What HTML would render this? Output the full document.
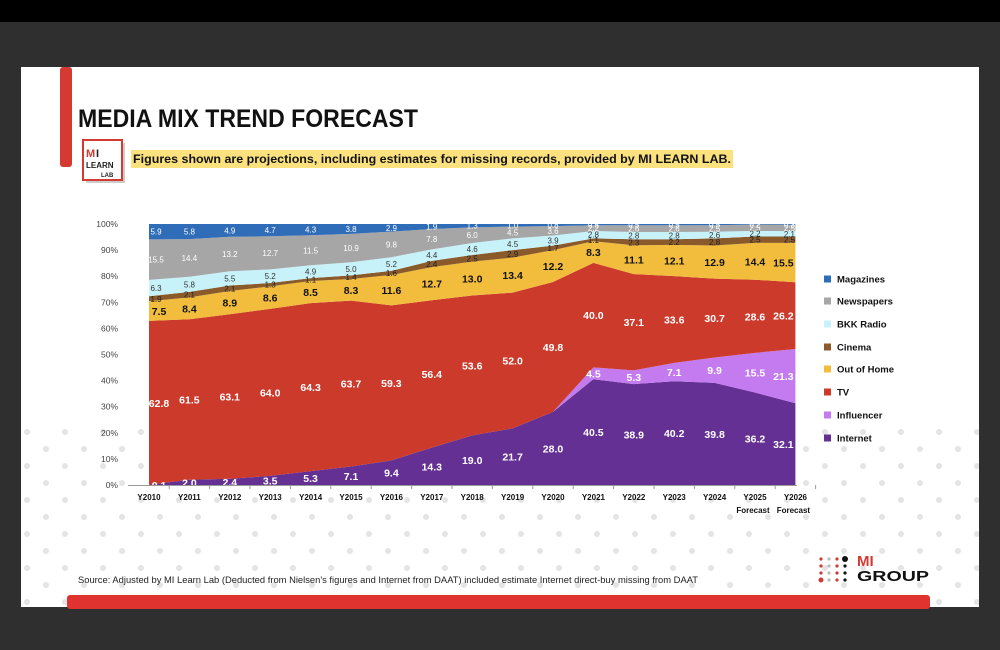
<!DOCTYPE html>
<html><head><meta charset="utf-8"><style>
html,body{margin:0;padding:0;background:#2f2f2f;width:1000px;height:650px;overflow:hidden}
svg{display:block;font-family:"Liberation Sans",sans-serif}
</style></head><body>
<svg id="s" width="1000" height="650" viewBox="0 0 1000 650" xmlns="http://www.w3.org/2000/svg">
<defs>
<pattern id="dots" width="38" height="34" patternUnits="userSpaceOnUse">
<circle cx="8" cy="7" r="3" fill="#e4e4e4"/><circle cx="27" cy="24" r="3" fill="#e4e4e4"/>
</pattern>
</defs>
<rect x="0" y="0" width="1000" height="650" fill="#2f2f2f"/>
<rect x="0" y="0" width="1000" height="22" fill="#000"/>
<rect x="21" y="67" width="958" height="540" fill="#fff"/>
<rect x="21" y="420" width="958" height="187" fill="url(#dots)"/>
<rect x="60" y="67" width="12" height="100" rx="3" fill="#d43a32"/>
<text x="78" y="127" font-size="25" font-weight="bold" fill="#111" textLength="340" lengthAdjust="spacingAndGlyphs">MEDIA MIX TREND FORECAST</text>
<rect x="86" y="143" width="39" height="40" fill="#ccc"/>
<rect x="83" y="140" width="39" height="40" fill="#fff" stroke="#d43a32" stroke-width="2"/>
<text x="86" y="157" font-size="11" font-weight="bold" fill="#d43a32">M</text><text x="96" y="157" font-size="11" font-weight="bold" fill="#222">I</text>
<text x="86" y="168" font-size="8" font-weight="bold" fill="#222">LEARN</text>
<text x="101" y="177" font-size="6" font-weight="bold" fill="#222">LAB</text>
<rect x="131" y="150" width="602" height="18" fill="#fbe27f"/>
<text x="133" y="163" font-size="12" font-weight="bold" fill="#111" textLength="598" lengthAdjust="spacingAndGlyphs">Figures shown are projections, including estimates for missing records, provided by MI LEARN LAB.</text>
<g id="chart"></g>
<text x="78" y="583" font-size="9" fill="#222" textLength="620" lengthAdjust="spacingAndGlyphs">Source: Adjusted by MI Learn Lab (Deducted  from Nielsen's figures and Internet from DAAT) included estimate Internet direct-buy missing from DAAT</text>
<g id="logo"></g>
<text x="857" y="566" font-size="15" font-weight="bold" fill="#d43a32">MI</text>
<text x="857" y="581" font-size="15" font-weight="bold" fill="#111" textLength="72" lengthAdjust="spacingAndGlyphs">GROUP</text>
<rect x="67" y="595" width="863" height="14" rx="3" fill="#e0322e"/>
</svg>
<script>
var NS="http://www.w3.org/2000/svg";
function el(t,a,p,txt){var e=document.createElementNS(NS,t);for(var k in a)e.setAttribute(k,a[k]);if(txt!==undefined)e.textContent=txt;(p||document.getElementById('chart')).appendChild(e);return e;}
var ser=[
["Internet","#643093","#fff",1,[0.1,2.0,2.4,3.5,5.3,7.1,9.4,14.3,19.0,21.7,28.0,40.5,38.9,40.2,39.8,36.2,32.1]],
["Influencer","#c37bef","#fff",1,[0,0,0,0,0,0,0,0,0,0,0,4.5,5.3,7.1,9.9,15.5,21.3]],
["TV","#cc3a2c","#fff",1,[62.8,61.5,63.1,64.0,64.3,63.7,59.3,56.4,53.6,52.0,49.8,40.0,37.1,33.6,30.7,28.6,26.2]],
["Out of Home","#f2bd3d","#111",1,[7.5,8.4,8.9,8.6,8.5,8.3,11.6,12.7,13.0,13.4,12.2,8.3,11.1,12.1,12.9,14.4,15.5]],
["Cinema","#8b5a2b","#222",0,[1.9,2.1,2.1,1.3,1.1,1.4,1.6,2.4,2.5,2.9,1.7,1.1,2.3,2.2,2.8,2.5,2.5]],
["BKK Radio","#c8f2f9","#333",0,[6.3,5.8,5.5,5.2,4.9,5.0,5.2,4.4,4.6,4.5,3.9,2.8,2.8,2.8,2.6,2.2,2.1]],
["Newspapers","#a6a6a6","#fff",0,[15.5,14.4,13.2,12.7,11.5,10.9,9.8,7.8,6.0,4.5,3.6,2.2,2.6,2.6,2.5,2.5,2.5]],
["Magazines","#2f6db8","#fff",0,[5.9,5.8,4.9,4.7,4.3,3.8,2.9,1.9,1.3,1.0,0.8,0.5,0.5,0.5,0.5,0.2,0.3]]];
var N=17,x0=149,dx=40.4,y0=485,H=261;
function X(i){return x0+i*dx;}
var tot=[];for(var i=0;i<N;i++){var s=0;ser.forEach(function(r){s+=r[4][i]});tot.push(s);}
var base=new Array(N).fill(0);
var labs=[];
ser.forEach(function(r){
  var lo=base.slice(),hi=[];
  for(var i=0;i<N;i++)hi.push(lo[i]+r[4][i]/tot[i]*100);
  var d="M";for(var i=0;i<N;i++)d+=X(i)+","+(y0-hi[i]*H/100)+" L";
  for(var i=N-1;i>=0;i--)d+=X(i)+","+(y0-lo[i]*H/100)+(i?" L":" Z");
  el("path",{d:d,fill:r[1]});
  for(var i=0;i<N;i++){if(r[4][i]>0){var yc=y0-(lo[i]+hi[i])/2*H/100;
    labs.push([X(i)+(i==0?(r[3]?10:7):i==N-1?(r[3]?-12:-6):0),yc+(r[3]?4:3),r[4][i].toFixed(1),r[2],r[3]]);}}
  base=hi;
});
labs.forEach(function(l){el("text",{x:l[0],y:l[1],"font-size":l[4]?10.5:8,"font-weight":l[4]?"bold":"normal",fill:l[3],"text-anchor":"middle"},null,l[2]);});
for(var k=0;k<=10;k++){el("text",{x:118,y:y0-k*H/10+3,"font-size":8.5,fill:"#444","text-anchor":"end"},null,(k*10)+"%");}
el("line",{x1:128,y1:y0+0.5,x2:797,y2:y0+0.5,stroke:"#999","stroke-width":1});
for(var i=0;i<N;i++){el("line",{x1:X(i)+dx/2,y1:y0,x2:X(i)+dx/2,y2:y0+4,stroke:"#999"});
 el("text",{x:X(i),y:500,"font-size":8,"font-weight":"bold",fill:"#111","text-anchor":"middle"},null,"Y"+(2010+i));}
el("text",{x:X(15)-2,y:513,"font-size":8,"font-weight":"bold",fill:"#111","text-anchor":"middle"},null,"Forecast");
el("text",{x:X(16)-2,y:513,"font-size":8,"font-weight":"bold",fill:"#111","text-anchor":"middle"},null,"Forecast");
var leg=["Magazines","Newspapers","BKK Radio","Cinema","Out of Home","TV","Influencer","Internet"];
var ly=[279,301,324,347,369,392,415,438];
leg.forEach(function(n,j){var r=ser.filter(function(s){return s[0]==n})[0];
 el("rect",{x:824,y:ly[j]-3.5,width:7,height:7,fill:r[1]});
 el("text",{x:837,y:ly[j]+3.5,"font-size":9.5,"font-weight":"bold",fill:"#111"},null,n);});
var lg=document.getElementById('logo');
var cols=["#d43a32","#bbb","#d43a32","#111"];
for(var c=0;c<4;c++)for(var rr=0;rr<4;rr++){el("circle",{cx:821+c*8,cy:559+rr*7,r:(c==3&&rr==0)?3:(rr==3&&c==0)?2.5:1.6,fill:cols[c]},lg);}
</script>
</body></html>
